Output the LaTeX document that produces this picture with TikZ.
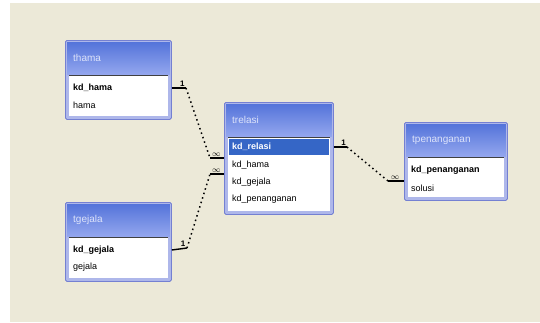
\documentclass[tikz,border=0pt]{standalone}
\usepackage{fontspec}
\setmainfont{Liberation Sans}
\usetikzlibrary{positioning}

\definecolor{canvas}{HTML}{ECE9D8}
\definecolor{framecol}{HTML}{AEB7EA}
\definecolor{frameedge}{HTML}{7480D2}
\definecolor{titletop}{HTML}{5474DA}
\definecolor{titlebot}{HTML}{93A6EE}
\definecolor{titletext}{HTML}{DDE3FA}
\definecolor{selrow}{HTML}{3566C6}

\begin{document}
\begin{tikzpicture}[x=1pt,y=-1pt,
    tbl/.style={draw=frameedge, fill=framecol, line width=0.8pt, rounded corners=1.5pt,
                anchor=north west, inner sep=0pt},
    ttl/.style={anchor=west, inner sep=0pt, text=titletext, font=\fontsize{10}{12}\selectfont},
    fld/.style={anchor=west, inner sep=0pt, font=\fontsize{9}{11}\selectfont},
    key/.style={fld, font=\fontsize{9}{11}\selectfont\bfseries},
    relline/.style={line width=1.5pt, dash pattern=on 1.5pt off 3.2pt},
    stub/.style={line width=1.4pt},
    card/.style={inner sep=1pt, font=\fontsize{8}{9}\selectfont\bfseries}]

    % window background
    \fill[white] (0,0) rectangle (540,322);
    \fill[canvas] (10,3) rectangle (540,322);
    \useasboundingbox (0,0) rectangle (540,322);

    % table frames
    \node[tbl, minimum width=106pt, minimum height=79pt]  (thama)       at (65,40)   {};
    \node[tbl, minimum width=106pt, minimum height=79pt]  (tgejala)     at (65,202)  {};
    \node[tbl, minimum width=109pt, minimum height=112pt] (trelasi)     at (224,102) {};
    \node[tbl, minimum width=103pt, minimum height=78pt]  (tpenanganan) at (404,122) {};

    % title bar and white field list of every table
    \foreach \t in {thama,tgejala,trelasi,tpenanganan} {
        \shade[top color=titletop, bottom color=titlebot]
            ([shift={(2,2)}]\t.north west) rectangle ([shift={(-2,34)}]\t.north east);
        \fill[white] ([shift={(4,35)}]\t.north west) rectangle ([shift={(-4,-4)}]\t.south east);
        \draw[black!75, line width=0.9pt]
            ([shift={(4,35)}]\t.north west) -- ([shift={(-4,35)}]\t.north east);
        \node[ttl] (\t-title) at ([shift={(8,18)}]\t.north west) {\t};
    }

    % selected row
    \fill[selrow] ([shift={(5,37)}]trelasi.north west) rectangle ([shift={(-5,53)}]trelasi.north east);

    % fields
    \node[key] (thama-1) at ([shift={(8,48)}]thama.north west) {kd\_hama};
    \node[fld] (thama-2) at ([shift={(8,65)}]thama.north west) {hama};

    \node[key] (tgejala-1) at ([shift={(8,48)}]tgejala.north west) {kd\_gejala};
    \node[fld] (tgejala-2) at ([shift={(8,65)}]tgejala.north west) {gejala};

    \node[key, text=white] (trelasi-1) at ([shift={(8,45)}]trelasi.north west) {kd\_relasi};
    \node[fld] (trelasi-2) at ([shift={(8,63)}]trelasi.north west) {kd\_hama};
    \node[fld] (trelasi-3) at ([shift={(8,80)}]trelasi.north west) {kd\_gejala};
    \node[fld] (trelasi-4) at ([shift={(8,97)}]trelasi.north west) {kd\_penanganan};

    \node[key] (tpenanganan-1) at ([shift={(7,48)}]tpenanganan.north west) {kd\_penanganan};
    \node[fld] (tpenanganan-2) at ([shift={(7,66)}]tpenanganan.north west) {solusi};

    % join points
    \coordinate (hama-out)   at (186,88);
    \coordinate (gejala-out) at (187,248);
    \coordinate (relasi-in1) at (210,158);
    \coordinate (relasi-in2) at (210,174);
    \coordinate (relasi-out) at (347,147);
    \coordinate (pena-in)    at (388,181);

    % thama -- trelasi
    \draw[stub] (thama.east |- thama-1) -- (hama-out) node[card, above, pos=0.75] {1};
    \draw[relline] (hama-out) -- (relasi-in1);
    \draw[stub] (relasi-in1) -- (trelasi.west |- relasi-in1) node[card, above, pos=0.45] {$\infty$};

    % tgejala -- trelasi
    \draw[stub] (tgejala.east |- tgejala-1) -- (gejala-out) node[card, above, pos=0.75] {1};
    \draw[relline] (gejala-out) -- (relasi-in2);
    \draw[stub] (relasi-in2) -- (trelasi.west |- relasi-in2) node[card, above, pos=0.45] {$\infty$};

    % trelasi -- tpenanganan
    \draw[stub] (trelasi.east |- trelasi-1) -- (relasi-out) node[card, above, pos=0.75] {1};
    \draw[relline] (relasi-out) -- (pena-in);
    \draw[stub] (pena-in) -- (tpenanganan.west |- pena-in) node[card, above, pos=0.45] {$\infty$};
\end{tikzpicture}
\end{document}
